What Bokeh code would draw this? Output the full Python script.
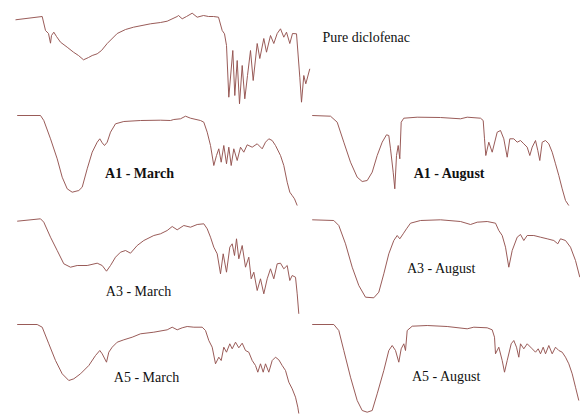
from bokeh.plotting import figure
from bokeh.models import Range1d, Label
from bokeh.layouts import column, row
from bokeh.embed import file_html
from bokeh.resources import INLINE

# ---- traced spectra (picture coordinates) ----
pure_x = [15, 41.7, 45, 48, 50, 51, 53.3, 56, 60, 66.7, 73, 78, 83, 88, 91.7, 96.7, 101, 106.7, 116.7, 125, 133,
          150, 160, 166.7, 176.7, 178, 181.7, 186, 191.7, 196.7, 203, 208, 213, 218, 221.7, 224, 226, 228.3, 232.3,
          234.3, 236.7, 239, 241.7, 244.3, 247, 250, 252.7, 256.7, 259.3, 263.3, 266, 270, 273.3, 276.7, 280, 283.3,
          286, 289.3, 292, 296, 299.3, 301, 303.3, 305.3, 309.3]
pure_y = [19.3, 16, 30, 33, 42.7, 35, 31.7, 36, 41.7, 46.7, 51.7, 55, 59.3, 57, 55, 53.3, 50, 43, 33, 29, 26.7,
          23.3, 22, 20.7, 16, 15, 18.3, 16, 12.7, 16.7, 15, 16, 16, 16.7, 30, 33.3, 45, 96.7, 50,
          95, 60, 103.3, 65, 98.3, 75, 50, 80, 43, 58, 38, 51.7, 35, 43, 33, 28.3, 36.7,
          31.7, 43, 33, 33.3, 76.7, 101.7, 75, 83.3, 68.3]

a1m_x = [16.7, 40, 43.3, 50, 56.7, 61.7, 66.7, 71.7, 78.3, 81.7, 86.7, 91.7, 96.7, 99.3, 101.7, 104, 106.7, 110,
         115, 123.3, 140, 160, 170, 173.3, 180, 185, 190, 200, 203.3, 206.7, 210, 213.3, 216, 218.3, 220.7, 223.3,
         226, 228.3, 230.7, 233.3, 236.7, 240, 243.3, 246.7, 251.7, 256.7, 261.7, 265, 268.3, 271.7, 275, 280,
         283.3, 286.7, 289.3, 291.7, 294, 296.7]
a1m_y = [115, 115, 120, 138.3, 158.3, 176.7, 188.3, 191.7, 190, 186.7, 168.3, 151.7, 141.7, 138.3, 142.3, 145,
         141.7, 131.7, 123.3, 121, 120, 119.7, 120, 119, 118.3, 115.7, 117.7, 120, 121.7, 131.7, 145, 165, 155,
         148.3, 161.7, 145, 163.3, 146.7, 165, 148.3, 160, 146.7, 151.7, 144.3, 146.7, 143.3, 148.3, 141.7, 138.3,
         140, 145, 155, 165, 181.7, 191.7, 195, 198.3, 205]

a1a_x = [311.7, 330, 336.7, 343.3, 350, 356.7, 361.7, 366.7, 371.7, 376.7, 381.7, 386, 388.3, 390, 392.7, 394.3,
         396, 397.7, 399.3, 400.7, 403.3, 416.7, 440, 460, 466.7, 480, 482.7, 484, 485.3, 488.3, 491.7, 496.7, 500,
         503.3, 506.7, 509.3, 513.3, 516.7, 520, 523.3, 526.7, 529.3, 531.7, 535, 537.3, 539.3, 541.7, 545, 548.3,
         551.7, 555, 558.3, 561.7, 565, 568.3]
a1a_y = [115, 115.7, 121.7, 141.7, 161.7, 176.7, 181, 180, 171.7, 155, 141.7, 134.3, 135, 148.3, 171.7, 188.3,
         155, 145, 158.3, 121.7, 117.7, 116.7, 117, 118.3, 116.7, 117.7, 120, 138.3, 155, 141.7, 151.7, 131.7, 130,
         138.3, 156.7, 138.3, 138.3, 141.7, 140, 143.3, 146.7, 155, 146.7, 140, 150, 160, 141.7, 140, 143.3,
         151.7, 163.3, 175, 188.3, 200, 205]

a3m_x = [16.7, 40, 43.3, 50, 56.7, 63.3, 70, 76.7, 86.7, 96.7, 101.7, 106, 110, 115, 120, 125, 130, 136.7, 143.3,
         153.3, 160, 166.7, 171.7, 176.7, 183.3, 190, 196.7, 203.3, 206.7, 210, 213.3, 216.7, 220, 222.7, 226,
         229.3, 231.7, 234, 236, 238.3, 241.7, 245, 248.3, 250.7, 253.3, 256.7, 260, 263.3, 266.7, 270, 273.3,
         276.7, 280, 283.3, 286.7, 289.3, 291.7, 295, 296.7, 298.3]
a3m_y = [220.7, 218.3, 221.7, 236.7, 250, 263.3, 266.7, 265, 265, 262.7, 265, 270.7, 265, 256.7, 251.7, 250,
         252.7, 245, 240, 235, 233.3, 230, 226, 229.3, 225, 226.7, 224, 223.3, 228.3, 236.7, 246.7, 253.3, 273.3,
         253.3, 271.7, 246.7, 243.3, 255, 238.3, 258.3, 245, 266.7, 256.7, 278.3, 271.7, 290, 278.3, 293.3, 278.3,
         268.3, 278.3, 263.3, 262.7, 268.3, 265, 280, 275, 276.7, 293.3, 313.3]

a3a_x = [311.7, 333.3, 338.3, 345, 351.7, 358.3, 365, 373.3, 378.3, 383.3, 388.3, 393.3, 396.7, 399.3, 402.7,
         406, 410, 420, 440, 460, 470, 476.7, 486.7, 495, 498.3, 501.7, 505, 508.3, 511.7, 516.7, 520, 523.3,
         526.7, 533.3, 540, 546.7, 553.3, 557.3, 560, 565, 570, 575, 579.3]
a3a_y = [219.3, 220, 225, 243.3, 266.7, 285, 296.7, 297.3, 291.7, 273.3, 253.3, 240, 235, 238.3, 233.3, 228.3,
         222.7, 220, 219.3, 221, 224, 221.7, 221, 222.7, 230, 235, 246.7, 266.7, 250, 236.7, 234, 240, 235, 235,
         236.7, 238.3, 240, 243.3, 238.3, 240, 246.7, 260, 276.7]

a5m_x = [16.7, 36.7, 41.7, 48.3, 55, 61.7, 68.3, 73.3, 80, 88.3, 95, 99.3, 101.7, 106, 108.3, 111.7, 116.7, 123.3,
         131.7, 140, 153.3, 166.7, 171.7, 176.7, 181.7, 186.7, 193.3, 201.7, 205, 208.3, 211.7, 215, 218.3, 220.7,
         223.3, 226, 229.3, 231.7, 235, 238.3, 241.7, 245, 248.3, 251.7, 255, 257.3, 260, 262.7, 265, 268.3, 271.7,
         275, 278.3, 281.7, 285, 288.3, 291.7, 295, 297.3, 298.3]
a5m_y = [324, 324, 326.7, 343.3, 360, 373.3, 380, 378.3, 373.3, 365, 355, 350, 353.3, 361.7, 351.7, 346.7, 341.7,
         339.3, 336.7, 333.3, 331.7, 329.3, 326.7, 329.3, 327.3, 326, 326.7, 326.7, 330, 340, 346.7, 363.3, 356.7,
         360, 346.7, 351.7, 343.3, 348.3, 341.7, 347.3, 342.7, 350, 351.7, 360, 365, 371.7, 363.3, 371.7, 363.3,
         371.7, 360, 356.7, 359.3, 365, 370, 381.7, 388.3, 396.7, 406.7, 413]

a5a_x = [311.7, 333.3, 338.3, 343.3, 350, 356.7, 361.7, 366.7, 371.7, 376.7, 383.3, 388.3, 391.7, 395, 398.3,
         400.7, 403.3, 405, 406.7, 411.7, 426.7, 446.7, 466.7, 473.3, 486.7, 491.7, 494, 495, 498.3, 501.7, 504,
         506.7, 510.7, 513.3, 516, 518.3, 520, 523.3, 526.7, 531.7, 535, 537.7, 540, 542.7, 545, 548.3, 551.7, 555,
         558.3, 561.7, 565, 568.3, 571.7, 575, 578.3]
a5a_y = [324, 324, 330, 350, 376.7, 400, 410, 411.7, 410, 393.3, 370, 350, 345, 350, 361.7, 348.3, 343.3, 350,
         330, 325.7, 325, 326, 328.3, 326.7, 327.3, 329.3, 336.7, 353.3, 346.7, 360, 371.7, 360, 343.3, 340, 346.7,
         356.7, 343.3, 348.3, 343.3, 348.3, 351.7, 348.3, 353.3, 346.7, 353.3, 345, 353.3, 346.7, 350, 351.7,
         356.7, 363.3, 373.3, 386.7, 400]

# sample labels
labels = ["Pure diclofenac", "A1 - March", "A1 - August", "A3 - March", "A3 - August", "A5 - March", "A5 - August"]

LINE = "#94524f"
FONT = "Liberation Serif"


def panel(x0, x1, y0, y1, xs, ys, text, tx, ty, bold=False, align="center"):
    p = figure(width=int(x1 - x0), height=int(y1 - y0), output_backend="svg", toolbar_location=None,
               x_axis_type=None, y_axis_type=None,
               x_range=Range1d(x0, x1), y_range=Range1d(y1, y0),
               min_border=0, min_border_left=0, min_border_right=0, min_border_top=0, min_border_bottom=0)
    p.outline_line_color = None
    p.background_fill_color = "white"
    p.border_fill_color = "white"
    p.line(xs, ys, line_color=LINE, line_width=1.0, line_alpha=0.95, line_join="round")
    p.add_layout(Label(x=tx, y=ty, text=text, text_font=FONT, text_font_size="14px",
                       text_font_style="bold" if bold else "normal", text_color="#111111",
                       text_align=align, text_baseline="middle"))
    return p


p0 = panel(0, 580, 0, 108, pure_x, pure_y, labels[0], 322, 37, align="left")
p1 = panel(0, 302, 108, 214, a1m_x, a1m_y, labels[1], 139, 173, bold=True)
p2 = panel(302, 580, 108, 214, a1a_x, a1a_y, labels[2], 449, 173, bold=True)
p3 = panel(0, 302, 214, 314, a3m_x, a3m_y, labels[3], 138, 291)
p4 = panel(302, 580, 214, 314, a3a_x, a3a_y, labels[4], 441, 268)
p5 = panel(0, 302, 314, 416, a5m_x, a5m_y, labels[5], 146, 377)
p6 = panel(302, 580, 314, 416, a5a_x, a5a_y, labels[6], 446, 376)

layout = column(p0, row(p1, p2), row(p3, p4), row(p5, p6))

open("out.html", "w").write(file_html(layout, INLINE))
